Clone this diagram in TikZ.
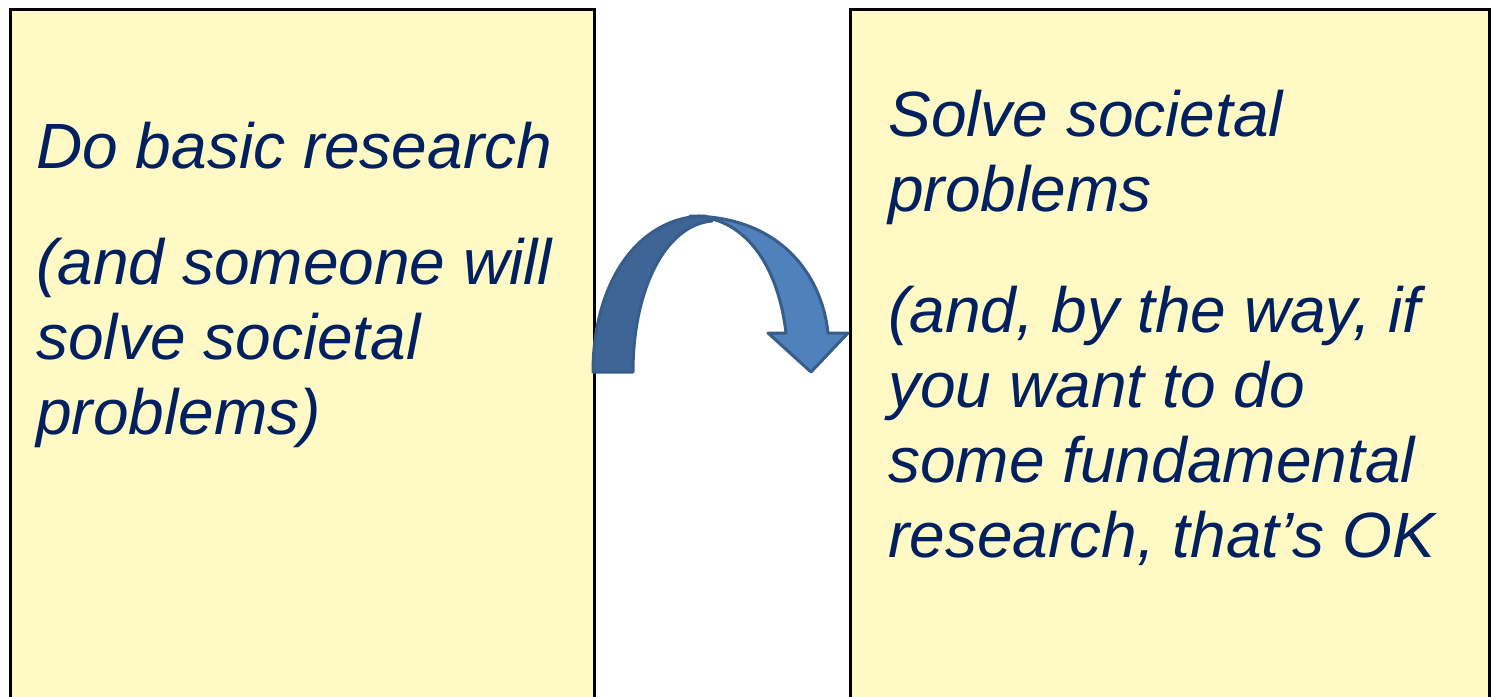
\documentclass[tikz,border=0pt]{standalone}
\usepackage{fontspec}
\setmainfont{Liberation Sans}
\definecolor{boxfill}{RGB}{255,249,197}
\definecolor{navy}{RGB}{0,32,96}
\definecolor{arrdark}{RGB}{62,101,150}
\definecolor{arrlight}{RGB}{79,129,189}
\definecolor{arredge}{RGB}{56,93,138}
\begin{document}
\begin{tikzpicture}[x=0.5pt,y=-0.5pt,
  panel/.style={fill=boxfill,draw=black,line width=1.5pt},
  txt/.style={anchor=base west,inner sep=0pt,text=navy,font=\fontsize{32}{37}\selectfont\itshape},
  band/.style={draw=arredge,line width=1.5pt,line join=round}]
\useasboundingbox (0,0) rectangle (1492,696);
\fill[white] (0,0) rectangle (1492,696);
% boxes
\draw[panel] (10,9) rectangle (594,720);
\draw[panel] (850,9) rectangle (1489,720);
% left text
\node[txt] (l1) at (36,168) {Do basic research};
\node[txt] (l2) at (36,284) {(and someone will};
\node[txt] (l3) at (36,359) {solve societal};
\node[txt] (l4) at (36,434) {problems)};
% right text
\node[txt] (r1) at (888,136) {Solve societal};
\node[txt] (r2) at (888,211) {problems};
\node[txt] (r3) at (888,332) {(and, by the way, if};
\node[txt] (r4) at (888,407) {you want to do};
\node[txt] (r5) at (888,482) {some fundamental};
\node[txt] (r6) at (888,557) {research, that’s OK};
% curved arrow: back band
\draw[band,fill=arrdark] (593,372) .. controls (593,280) and (640,216) .. (705,216)
  -- (712,221) .. controls (665,225) and (633,290) .. (633,372) -- cycle;
% front band with head
\draw[band,fill=arrlight] (690,216) .. controls (780,216) and (822,275) .. (828,333)
  -- (848,333) -- (811,372) -- (768,333) -- (786,333)
  .. controls (778,265) and (745,216) .. (690,216) -- cycle;
\end{tikzpicture}
\end{document}
